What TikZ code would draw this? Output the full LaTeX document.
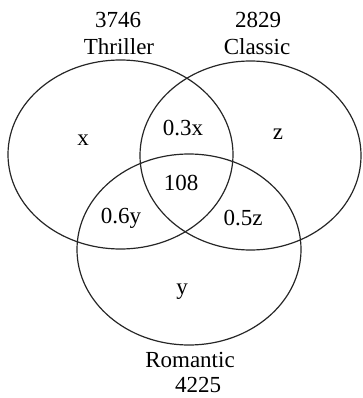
\documentclass[tikz,border=0pt]{standalone}
\usepackage{fontspec}
\setmainfont{Liberation Serif}
\begin{document}
\begin{tikzpicture}[x=1pt,y=-1pt,
  setline/.style={draw=black!85,line width=1.2pt},
  lbl/.style={inner sep=0pt,font=\fontsize{23}{26}\selectfont}]
\useasboundingbox (0,0) rectangle (362,398);
\draw[setline] (120.5,154.5) ellipse [x radius=112.5, y radius=94.5];
\draw[setline] (250.5,155.5) ellipse [x radius=110.5, y radius=94.5];
\draw[setline] (189,249.5) ellipse [x radius=112, y radius=95.5];
\node[lbl] (tn) at (118,20) {3746};
\node[lbl] (tl) at (119,47) {Thriller};
\node[lbl] (cn) at (258,20) {2829};
\node[lbl] (cl) at (257,47) {Classic};
\node[lbl] (x) at (83,140) {x};
\node[lbl] (tc) at (183,128) {0.3x};
\node[lbl] (z) at (278,134) {z};
\node[lbl] (all) at (181,183) {108};
\node[lbl] (tr) at (121,218) {0.6y};
\node[lbl] (cr) at (243,218) {0.5z};
\node[lbl] (y) at (182,292) {y};
\node[lbl] (rl) at (190,360) {Romantic};
\node[lbl] (rn) at (198,385) {4225};
\end{tikzpicture}
\end{document}
